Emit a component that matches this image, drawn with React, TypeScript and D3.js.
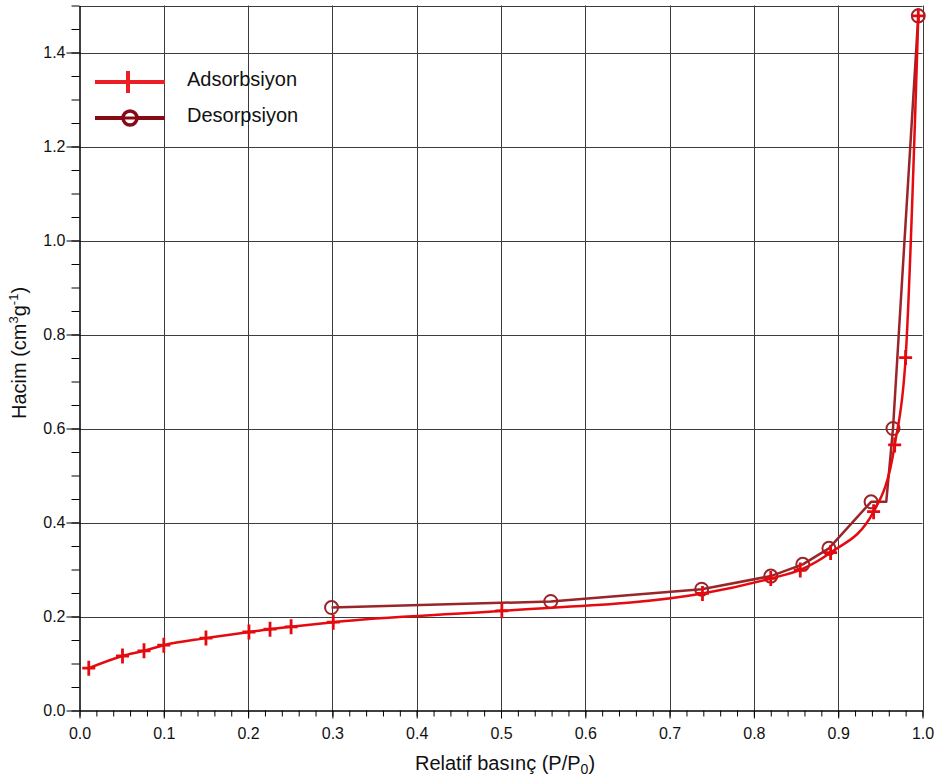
import React, { useEffect, useRef } from "react";
import * as d3 from "d3";

// axis ticks
const xTicks = [0, 0.1, 0.2, 0.3, 0.4, 0.5, 0.6, 0.7, 0.8, 0.9, 1.0];
const yTicks = [0, 0.2, 0.4, 0.6, 0.8, 1.0, 1.2, 1.4];

// adsorption branch (P/P0, volume)
const adsorptionP = [
  0.011, 0.051, 0.0765, 0.1, 0.15, 0.201, 0.226, 0.251, 0.301, 0.501, 0.739,
  0.82, 0.855, 0.891, 0.942, 0.967, 0.98, 0.995,
];
const adsorptionV = [
  0.09, 0.116, 0.127, 0.139, 0.154, 0.167, 0.173, 0.178, 0.188, 0.212, 0.249,
  0.281, 0.299, 0.336, 0.423, 0.565, 0.751, 1.478,
];

// desorption branch
const desorptionP = [0.995, 0.965, 0.939, 0.889, 0.858, 0.82, 0.738, 0.559, 0.299];
const desorptionV = [1.478, 0.6, 0.444, 0.345, 0.311, 0.286, 0.258, 0.232, 0.219];
// the desorption line bends here, no marker drawn
const desorptionBendP = 0.957;
const desorptionBendV = 0.444;

const legendLabels = ["Adsorbsiyon", "Desorpsiyon"];

export default function App() {
  const svgRef = useRef<SVGSVGElement>(null);
  const width = 937;
  const height = 783;
  const font = "'Liberation Sans', Arial, sans-serif";
  const adsColor = "#e50a0f";
  const desColor = "#9a2529";

  useEffect(() => {
    const svg = d3.select(svgRef.current);
    svg.selectAll("*").remove();

    const x = d3.scaleLinear().domain([0, 1]).range([79.5, 922.5]);
    const y = d3.scaleLinear().domain([0, 1.5]).range([710.5, 5.5]);

    svg.append("rect").attr("width", width).attr("height", height).attr("fill", "#fff");

    // grid
    const grid = svg.append("g").attr("stroke", "#3c3c3c").attr("stroke-width", 1);
    grid
      .selectAll("line.v")
      .data(xTicks.filter((d) => d > 0))
      .enter()
      .append("line")
      .attr("x1", (d) => Math.round(x(d)) + 0.5)
      .attr("x2", (d) => Math.round(x(d)) + 0.5)
      .attr("y1", y(1.5))
      .attr("y2", y(0));
    grid
      .selectAll("line.h")
      .data(yTicks.filter((d) => d > 0).concat([1.5]))
      .enter()
      .append("line")
      .attr("x1", x(0))
      .attr("x2", x(1))
      .attr("y1", (d) => Math.round(y(d)) + 0.5)
      .attr("y2", (d) => Math.round(y(d)) + 0.5);

    // x axis
    const xMinor = d3
      .axisBottom(x)
      .tickValues(d3.range(0, 51).map((i) => i / 50))
      .tickSize(6)
      .tickSizeOuter(0)
      .tickFormat(() => "");
    const xMajor = d3
      .axisBottom(x)
      .tickValues(xTicks)
      .tickSize(8)
      .tickSizeOuter(0)
      .tickPadding(9)
      .tickFormat(d3.format(".1f"));
    svg.append("g").attr("transform", `translate(0, ${y(0)})`).call(xMinor);
    const gx = svg.append("g").attr("transform", `translate(0, ${y(0)})`).call(xMajor);
    gx.selectAll("text").attr("font-size", 16).attr("font-family", font).attr("fill", "#111");

    // y axis
    const yMinor = d3
      .axisLeft(y)
      .tickValues(d3.range(0, 31).map((i) => i / 20))
      .tickSize(8)
      .tickSizeOuter(0)
      .tickFormat(() => "");
    const yMajor = d3
      .axisLeft(y)
      .tickValues(yTicks)
      .tickSize(13)
      .tickSizeOuter(0)
      .tickPadding(1)
      .tickFormat(d3.format(".1f"));
    svg.append("g").attr("transform", `translate(${x(0)}, 0)`).call(yMinor);
    const gy = svg.append("g").attr("transform", `translate(${x(0)}, 0)`).call(yMajor);
    gy.selectAll("text").attr("font-size", 16).attr("font-family", font).attr("fill", "#111");

    // axis titles
    const xt = svg
      .append("text")
      .attr("x", 505)
      .attr("y", 770)
      .attr("text-anchor", "middle")
      .attr("font-family", font)
      .attr("font-size", 20)
      .attr("fill", "#111");
    xt.append("tspan").text("Relatif basınç (P/P");
    xt.append("tspan").attr("font-size", 14).attr("dy", 4).text("0");
    xt.append("tspan").attr("dy", -4).text(")");

    const yt = svg
      .append("text")
      .attr("transform", `translate(26, ${(y(0) + y(1.5)) / 2 - 5}) rotate(-90)`)
      .attr("text-anchor", "middle")
      .attr("font-family", font)
      .attr("font-size", 20)
      .attr("fill", "#111");
    yt.append("tspan").text("Hacim (cm");
    yt.append("tspan").attr("font-size", 13).attr("dy", -8).text("3");
    yt.append("tspan").attr("dy", 8).text("g");
    yt.append("tspan").attr("font-size", 13).attr("dy", -8).text("-1");
    yt.append("tspan").attr("dy", 8).text(")");

    // data
    const ads = adsorptionP.map((p, i) => [p, adsorptionV[i]]);
    const des = desorptionP.map((p, i) => [p, desorptionV[i]]);
    const desLine = des
      .concat([[desorptionBendP, desorptionBendV]])
      .sort((a, b) => a[0] - b[0]);

    const line = d3
      .line()
      .x((d) => x(d[0]))
      .y((d) => y(d[1]));

    svg
      .append("path")
      .datum(desLine)
      .attr("d", line.curve(d3.curveLinear))
      .attr("fill", "none")
      .attr("stroke", desColor)
      .attr("stroke-width", 2.5)
      .attr("stroke-linejoin", "round");

    svg
      .selectAll("circle.des")
      .data(des)
      .enter()
      .append("circle")
      .attr("cx", (d) => x(d[0]))
      .attr("cy", (d) => y(d[1]))
      .attr("r", 6.5)
      .attr("fill", "none")
      .attr("stroke", desColor)
      .attr("stroke-width", 2);

    svg
      .append("path")
      .datum(ads)
      .attr("d", line.curve(d3.curveMonotoneX))
      .attr("fill", "none")
      .attr("stroke", adsColor)
      .attr("stroke-width", 2.5);

    // plus markers, slightly taller than wide
    svg
      .selectAll("path.ads")
      .data(ads)
      .enter()
      .append("path")
      .attr("d", (d) => {
        const cx = x(d[0]);
        const cy = y(d[1]);
        return `M${cx - 6.5},${cy}H${cx + 6.5}M${cx},${cy - 7.5}V${cy + 7.5}`;
      })
      .attr("stroke", adsColor)
      .attr("stroke-width", 2.8);

    // legend
    const legend = svg.append("g");
    const rows = [82, 118];
    legend
      .selectAll("line")
      .data(rows)
      .enter()
      .append("line")
      .attr("x1", 95)
      .attr("x2", 165)
      .attr("y1", (d) => d)
      .attr("y2", (d) => d)
      .attr("stroke", (d, i) => (i === 0 ? "#ee1d25" : "#860b17"))
      .attr("stroke-width", 4);
    legend
      .append("line")
      .attr("x1", 128)
      .attr("x2", 128)
      .attr("y1", rows[0] - 11)
      .attr("y2", rows[0] + 11)
      .attr("stroke", "#ee1d25")
      .attr("stroke-width", 4);
    legend
      .append("circle")
      .attr("cx", 130)
      .attr("cy", rows[1])
      .attr("r", 7)
      .attr("fill", "#fff")
      .attr("stroke", "#860b17")
      .attr("stroke-width", 3.5);
    legend
      .append("line")
      .attr("x1", 123)
      .attr("x2", 137)
      .attr("y1", rows[1])
      .attr("y2", rows[1])
      .attr("stroke", "#860b17")
      .attr("stroke-width", 3);
    legend
      .selectAll("text")
      .data(legendLabels)
      .enter()
      .append("text")
      .attr("x", 187)
      .attr("y", (d, i) => rows[i] + 4)
      .attr("font-family", font)
      .attr("font-size", 20)
      .attr("fill", "#111")
      .text((d) => d);
  }, []);

  return (
    <svg
      ref={svgRef}
      width={width}
      height={height}
      style={{ position: "absolute", left: 0, top: 0 }}
    ></svg>
  );
}
